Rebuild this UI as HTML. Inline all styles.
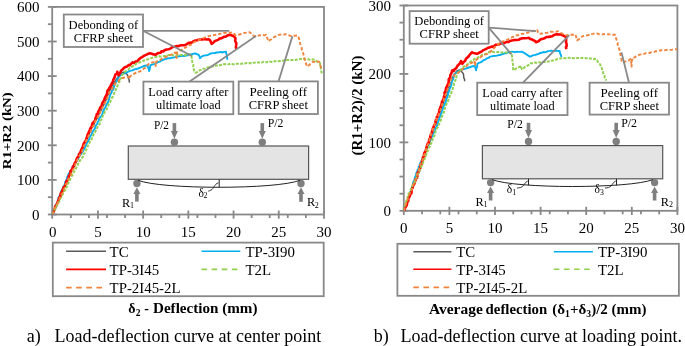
<!DOCTYPE html>
<html><head><meta charset="utf-8"><style>
html,body{margin:0;padding:0;background:#fff;width:685px;height:346px;overflow:hidden}
svg{display:block;font-family:"Liberation Serif",serif}
svg{will-change:transform}
</style></head><body>
<svg width="685" height="346" viewBox="0 0 685 346" font-family="'Liberation Serif', serif">
<defs><clipPath id="clipL"><rect x="52.3" y="0" width="272" height="214.3"/></clipPath><clipPath id="clipR"><rect x="403.6" y="0" width="274" height="211.1"/></clipPath></defs>
<rect width="685" height="346" fill="#fff"/>
<line x1="47.90" y1="197.20" x2="52.20" y2="197.20" stroke="#888888" stroke-width="1.8" />
<line x1="47.90" y1="162.60" x2="52.20" y2="162.60" stroke="#888888" stroke-width="1.8" />
<line x1="47.90" y1="128.00" x2="52.20" y2="128.00" stroke="#888888" stroke-width="1.8" />
<line x1="47.90" y1="93.40" x2="52.20" y2="93.40" stroke="#888888" stroke-width="1.8" />
<line x1="47.90" y1="58.80" x2="52.20" y2="58.80" stroke="#888888" stroke-width="1.8" />
<line x1="47.90" y1="24.20" x2="52.20" y2="24.20" stroke="#888888" stroke-width="1.8" />
<line x1="70.83" y1="214.50" x2="70.83" y2="218.00" stroke="#888888" stroke-width="1.8" />
<line x1="88.91" y1="214.50" x2="88.91" y2="218.00" stroke="#888888" stroke-width="1.8" />
<line x1="106.99" y1="214.50" x2="106.99" y2="218.00" stroke="#888888" stroke-width="1.8" />
<line x1="125.07" y1="214.50" x2="125.07" y2="218.00" stroke="#888888" stroke-width="1.8" />
<line x1="161.23" y1="214.50" x2="161.23" y2="218.00" stroke="#888888" stroke-width="1.8" />
<line x1="179.31" y1="214.50" x2="179.31" y2="218.00" stroke="#888888" stroke-width="1.8" />
<line x1="197.39" y1="214.50" x2="197.39" y2="218.00" stroke="#888888" stroke-width="1.8" />
<line x1="215.47" y1="214.50" x2="215.47" y2="218.00" stroke="#888888" stroke-width="1.8" />
<line x1="251.63" y1="214.50" x2="251.63" y2="218.00" stroke="#888888" stroke-width="1.8" />
<line x1="269.71" y1="214.50" x2="269.71" y2="218.00" stroke="#888888" stroke-width="1.8" />
<line x1="287.79" y1="214.50" x2="287.79" y2="218.00" stroke="#888888" stroke-width="1.8" />
<line x1="305.87" y1="214.50" x2="305.87" y2="218.00" stroke="#888888" stroke-width="1.8" />
<line x1="47.90" y1="214.50" x2="56.70" y2="214.50" stroke="#888888" stroke-width="1.8" />
<text x="39.50" y="219.80" font-size="15" text-anchor="end" font-weight="normal" fill="#000" >0</text>
<line x1="47.90" y1="179.90" x2="56.70" y2="179.90" stroke="#888888" stroke-width="1.8" />
<text x="39.50" y="185.20" font-size="15" text-anchor="end" font-weight="normal" fill="#000" >100</text>
<line x1="47.90" y1="145.30" x2="56.70" y2="145.30" stroke="#888888" stroke-width="1.8" />
<text x="39.50" y="150.60" font-size="15" text-anchor="end" font-weight="normal" fill="#000" >200</text>
<line x1="47.90" y1="110.70" x2="56.70" y2="110.70" stroke="#888888" stroke-width="1.8" />
<text x="39.50" y="116.00" font-size="15" text-anchor="end" font-weight="normal" fill="#000" >300</text>
<line x1="47.90" y1="76.10" x2="56.70" y2="76.10" stroke="#888888" stroke-width="1.8" />
<text x="39.50" y="81.40" font-size="15" text-anchor="end" font-weight="normal" fill="#000" >400</text>
<line x1="47.90" y1="41.50" x2="56.70" y2="41.50" stroke="#888888" stroke-width="1.8" />
<text x="39.50" y="46.80" font-size="15" text-anchor="end" font-weight="normal" fill="#000" >500</text>
<line x1="47.90" y1="6.90" x2="56.70" y2="6.90" stroke="#888888" stroke-width="1.8" />
<text x="39.50" y="12.20" font-size="15" text-anchor="end" font-weight="normal" fill="#000" >600</text>
<line x1="52.20" y1="210.50" x2="52.20" y2="218.70" stroke="#888888" stroke-width="1.8" />
<text x="52.75" y="237.10" font-size="15" text-anchor="middle" font-weight="normal" fill="#000" >0</text>
<line x1="97.95" y1="210.50" x2="97.95" y2="218.70" stroke="#888888" stroke-width="1.8" />
<text x="97.95" y="237.10" font-size="15" text-anchor="middle" font-weight="normal" fill="#000" >5</text>
<line x1="143.15" y1="210.50" x2="143.15" y2="218.70" stroke="#888888" stroke-width="1.8" />
<text x="143.15" y="237.10" font-size="15" text-anchor="middle" font-weight="normal" fill="#000" >10</text>
<line x1="188.35" y1="210.50" x2="188.35" y2="218.70" stroke="#888888" stroke-width="1.8" />
<text x="188.35" y="237.10" font-size="15" text-anchor="middle" font-weight="normal" fill="#000" >15</text>
<line x1="233.55" y1="210.50" x2="233.55" y2="218.70" stroke="#888888" stroke-width="1.8" />
<text x="233.55" y="237.10" font-size="15" text-anchor="middle" font-weight="normal" fill="#000" >20</text>
<line x1="278.75" y1="210.50" x2="278.75" y2="218.70" stroke="#888888" stroke-width="1.8" />
<text x="278.75" y="237.10" font-size="15" text-anchor="middle" font-weight="normal" fill="#000" >25</text>
<line x1="324.00" y1="210.50" x2="324.00" y2="218.70" stroke="#888888" stroke-width="1.8" />
<text x="323.95" y="237.10" font-size="15" text-anchor="middle" font-weight="normal" fill="#000" >30</text>
<rect x="52.20" y="6.90" width="271.80" height="207.60" fill="none" stroke="#888888" stroke-width="1.8"/>
<g clip-path="url(#clipL)">
<polyline points="52.3,214.3 53.0,213.0 53.8,211.7 54.5,210.2 54.6,208.4 55.9,207.0 56.6,205.2 56.9,203.8 57.6,202.5 57.9,200.8 58.8,199.8 59.8,197.8 60.5,196.3 61.0,194.8 61.2,193.9 62.0,192.0 63.3,190.9 63.4,189.5 64.3,187.8 64.7,186.6 65.7,185.1 66.5,183.1 66.8,181.6 67.3,180.0 68.1,178.9 68.5,177.5 69.4,175.8 70.4,174.4 70.7,172.9 71.7,171.2 72.2,170.0 73.2,168.2 73.8,167.3 74.0,165.8 74.9,164.1 75.3,162.3 76.2,161.4 76.9,159.8 78.1,158.5 78.4,156.6 79.2,155.4 79.6,153.9 80.8,152.5 80.9,151.1 81.7,149.1 82.7,148.1 83.2,146.6 84.1,144.7 84.6,143.1 85.1,141.6 86.3,140.7 86.6,138.6 87.9,137.4 88.1,135.7 89.0,134.7 89.6,132.9 90.0,131.8 91.0,130.0 91.4,128.5 92.7,126.7 93.4,125.8 94.1,124.2 94.5,122.5 95.3,121.2 96.1,119.5 97.3,118.2 98.1,116.5 98.5,115.2 99.2,113.4 99.9,111.8 100.7,110.8 101.8,109.1 102.2,107.4 102.7,105.8 103.9,104.8 104.4,103.2 105.4,101.6 106.0,100.0 106.8,98.5 107.2,96.8 107.8,95.0 108.9,93.5 109.2,92.0 110.0,90.0 110.9,88.6 111.3,87.0 112.2,85.6 113.2,84.2 114.0,82.5 115.2,81.2 116.1,79.7 117.3,78.1 118.4,76.8 119.1,75.3 120.2,73.5 122.5,72.8 124.3,71.8 125.8,73.3 126.6,74.1 127.7,75.2 127.9,77.3 128.9,78.9 129.2,81.0 129.5,82.7" fill="none" stroke="#5a5a5a" stroke-width="1.5" stroke-linejoin="round" />
<polyline points="52.3,214.3 53.3,213.2 53.1,211.0 54.4,210.0 54.8,208.2 55.4,206.9 56.0,205.1 56.4,203.8 57.3,202.8 58.1,200.9 58.3,199.2 58.5,197.5 59.5,196.2 60.0,195.2 60.7,193.5 61.1,191.5 61.8,190.1 62.5,189.3 63.2,187.2 64.0,186.2 64.5,184.8 65.1,183.2 65.4,181.8 66.5,179.7 66.9,178.6 67.3,177.0 67.9,175.8 68.5,174.0 69.4,172.9 70.1,171.5 71.4,169.7 72.1,168.7 73.1,166.9 73.5,165.4 74.8,163.9 75.8,162.5 76.7,161.1 77.6,160.0 78.1,158.5 79.1,157.1 79.7,155.4 80.8,154.6 81.7,152.5 82.8,151.6 83.4,150.0 84.5,148.3 85.1,146.8 85.8,145.5 86.2,144.6 86.9,142.9 88.2,141.2 88.5,140.3 89.4,138.7 89.8,137.0 90.7,135.9 91.4,134.6 92.1,133.0 92.9,131.2 94.0,130.0 95.0,128.2 95.2,127.2 96.1,125.1 97.4,123.7 97.4,122.4 98.6,121.2 98.9,119.4 99.6,118.0 100.9,116.7 101.8,115.2 102.5,113.7 102.9,111.8 103.8,110.4 104.1,109.0 105.5,107.2 106.0,105.9 106.7,104.2 107.8,102.8 108.2,101.4 108.9,100.0 109.2,98.2 109.9,96.0 110.5,94.3 111.5,92.7 111.9,91.1 112.9,89.6 113.9,87.9 114.1,85.7 115.0,84.0 115.7,82.5 116.9,81.0 117.9,79.0 118.5,77.6 119.5,76.0 121.0,74.7 123.2,73.8 125.2,73.2 127.1,72.3 128.4,71.5 130.2,70.8 132.2,70.3 133.9,69.6 135.5,69.1 137.1,68.8 139.5,68.0 140.8,67.3 142.6,66.7 144.3,65.8 145.9,65.7 147.6,65.2 147.8,66.8 148.8,69.0 149.1,71.0 149.6,69.4 150.1,67.0 150.5,65.2 153.1,64.4 155.0,63.8 156.2,63.2 157.8,62.1 160.0,61.6 160.9,60.7 162.8,60.0 164.5,59.2 166.1,58.9 167.8,58.3 169.8,58.4 171.7,57.7 173.2,57.6 175.1,57.1 177.0,56.6 178.9,56.3 180.9,56.0 182.2,55.6 184.0,56.0 186.1,55.5 188.0,55.4 189.7,54.3 191.4,54.5 193.2,53.8 194.8,53.4 196.5,54.0 198.4,54.6 199.4,56.2 200.0,58.2 202.2,56.1 204.0,55.6 206.2,55.3 208.0,54.8 209.5,54.0 211.1,53.4 213.1,53.1 214.8,53.0 216.7,52.5 218.9,52.4 220.7,51.9 222.2,52.5 223.9,51.9 226.1,51.8 226.0,53.0 227.0,55.4 227.1,56.2 227.1,57.9 227.5,59.7" fill="none" stroke="#00b0f0" stroke-width="1.9" stroke-linejoin="round" />
<polyline points="52.3,214.3 52.6,213.2 53.9,211.1 54.2,209.8 55.0,208.7 55.1,206.4 56.5,205.4 57.1,203.5 57.4,202.7 57.8,201.5 59.1,199.1 58.9,198.1 60.5,196.5 60.4,195.0 60.8,193.3 61.9,192.1 62.3,190.4 63.0,189.2 63.7,187.2 64.9,186.3 65.3,184.5 66.3,183.6 66.1,181.6 67.3,180.5 68.2,178.8 68.7,177.6 68.8,176.0 70.1,174.8 70.3,173.0 70.5,171.2 71.6,170.0 72.6,168.4 72.7,167.0 74.0,165.6 74.4,163.8 75.3,162.6 76.1,160.7 76.8,158.8 77.1,157.9 78.7,156.2 78.9,154.3 79.7,153.6 80.7,151.6 81.2,150.0 82.2,148.2 82.5,147.4 83.3,145.3 83.6,143.9 85.0,141.8 85.5,141.1 86.2,139.5 86.8,137.7 87.2,136.1 87.4,135.0 88.5,132.8 89.1,131.5 89.8,130.0 90.4,128.3 91.3,127.1 92.1,125.5 92.2,123.7 93.1,122.6 94.5,121.3 95.2,119.8 95.4,118.3 96.5,116.1 96.6,114.5 98.0,113.2 98.1,112.1 99.1,110.1 99.6,109.0 100.3,107.3 101.6,106.0 101.9,104.5 102.4,102.9 103.5,101.2 104.3,100.0 104.6,98.6 105.8,96.1 106.6,94.8 107.2,92.7 107.5,90.6 108.4,89.7 109.3,88.1 110.6,86.3 110.9,85.1 112.0,83.0 113.1,81.4 113.2,79.9 114.2,78.2 114.8,76.7 115.3,74.7 117.0,73.7 117.3,71.7 117.8,73.9 118.7,75.3 119.2,74.3 120.4,72.3 120.9,71.0 123.1,68.8 124.8,67.2 127.0,66.5 128.7,65.1 130.0,65.2 131.0,63.8 132.5,62.3 133.9,63.0 135.4,61.6 137.2,61.3 138.5,59.8 139.7,58.7 141.0,57.6 142.3,57.1 144.0,55.7 145.5,55.1 146.6,54.6 148.4,53.7 150.0,53.2 151.7,53.7 153.7,54.5 155.8,54.6 157.6,53.4 158.4,53.0 160.6,52.7 161.4,51.4 163.2,51.4 164.5,50.3 166.6,49.5 168.2,49.3 169.5,49.0 171.0,48.1 172.5,47.0 174.6,46.7 176.7,46.1 178.1,46.2 179.9,45.6 181.0,45.2 183.2,45.2 184.9,45.2 186.1,44.5 187.2,43.9 188.7,42.7 190.1,42.9 192.3,42.2 193.4,41.4 195.0,40.6 197.0,40.2 198.6,39.8 199.8,39.5 202.4,39.5 203.7,39.2 205.8,39.2 206.8,39.5 208.7,39.2 210.0,40.2 210.8,41.9 211.6,43.8 212.9,43.1 214.5,41.3 216.7,40.4 218.6,39.6 219.2,38.6 220.8,38.5 222.1,37.9 223.9,36.8 225.7,36.6 228.2,35.2 229.7,34.7 231.3,35.3 233.3,35.9 235.5,38.1 235.2,40.1 235.3,41.2 236.3,43.3 236.1,45.2 235.9,46.7 236.2,48.9" fill="none" stroke="#ff0000" stroke-width="2.6" stroke-linejoin="round" />
<polyline points="52.3,214.3 52.8,212.6 53.7,211.2 54.2,209.9 55.6,208.8 56.2,206.9 56.7,205.5 57.2,204.0 58.0,203.2 59.2,201.7 59.9,199.8 60.2,198.7 61.3,197.4 62.2,195.4 62.7,194.4 63.3,192.6 64.0,191.1 65.2,190.3 65.6,188.4 66.6,187.2 67.3,186.0 67.8,184.2 68.6,182.8 68.9,181.3 70.2,179.6 70.3,178.7 71.2,177.2 72.1,175.6 73.3,174.0 73.6,172.6 74.5,171.3 75.1,170.0 75.8,168.8 76.5,167.2 77.8,165.4 77.9,164.1 79.2,162.9 79.6,161.3 80.3,160.0 81.0,158.7 82.4,157.5 83.1,156.1 83.3,154.1 84.8,153.1 85.1,151.8 86.0,150.0 86.8,148.8 87.3,146.9 88.2,145.4 88.9,144.7 89.6,142.5 90.1,141.2 91.4,139.9 91.8,138.2 93.1,137.1 93.2,135.4 93.8,134.0 95.1,132.6 95.3,131.4 96.4,130.0 96.9,128.9 97.5,127.0 98.8,125.4 99.7,124.0 99.8,122.4 100.3,120.9 101.2,119.8 102.4,118.0 102.5,116.3 103.4,114.8 104.1,113.8 104.8,111.6 106.1,110.6 106.9,108.9 107.5,107.6 108.2,106.2 108.6,104.2 109.1,103.3 110.4,101.8 110.8,100.0 111.4,98.7 112.5,97.2 113.2,95.6 113.8,94.3 114.4,92.7 114.9,91.4 116.1,89.1 116.8,88.2 117.3,85.9 118.1,84.3 118.5,83.0 119.6,81.6 119.7,79.7 120.9,78.6 121.7,77.3 122.1,75.1 123.4,73.6 123.8,72.5 125.6,71.1 126.9,70.5 128.5,69.2 129.6,68.1 131.3,67.0 132.6,66.3 134.2,65.8 135.3,64.7 136.4,63.5 138.2,63.0 140.0,62.3 142.0,61.7 143.1,60.8 145.4,60.2 146.9,59.5 148.1,59.3 150.4,58.2 151.8,57.9 153.6,57.3 155.0,57.0 156.7,56.8 159.2,56.3 160.4,56.6 162.9,56.3 164.5,56.1 166.2,56.1 168.3,55.1 170.2,54.9 171.7,54.8 173.3,55.2 175.2,55.3 176.8,55.5 178.9,55.3 180.4,54.9 182.5,54.9 184.3,55.2 186.1,54.8 188.0,54.3 189.3,54.7 191.2,54.6 191.5,56.4 191.7,57.5 191.8,59.7 192.2,61.2 192.6,62.6 193.3,64.6 193.3,66.6 193.4,68.4 194.3,70.9 195.5,72.7 197.0,72.2 198.3,71.3 200.0,70.2 201.9,69.8 203.3,68.8 205.2,68.5 206.8,67.8 208.0,67.2 210.0,67.0 211.9,66.4 213.7,66.3 215.1,65.9 216.8,65.4 218.3,65.8 219.7,65.3 221.5,64.7 223.0,64.1 225.0,64.2 227.0,64.4 228.6,64.3 230.4,63.7 231.7,63.9 233.4,64.2 235.2,64.1 236.4,63.8 238.5,63.8 240.1,63.7 241.5,63.7 243.3,63.4 245.3,63.4 246.5,62.9 248.2,63.2 250.0,63.0 252.1,63.2 253.3,62.7 255.3,62.5 256.6,62.2 258.1,62.5 260.2,62.4 261.6,62.6 263.4,61.8 264.7,62.4 267.1,62.2 268.4,61.6 269.7,61.5 271.4,61.9 273.6,61.7 274.7,61.1 276.5,61.6 278.1,61.3 280.0,61.0 281.8,60.9 283.7,60.5 285.0,60.2 286.3,60.0 288.2,59.9 289.6,60.4 291.5,60.1 293.5,59.9 295.1,59.9 297.0,59.5 298.4,59.3 300.0,59.0 301.8,59.1 303.3,58.9 305.3,59.3 306.3,59.1 308.6,59.2 309.9,59.7 312.0,59.5 313.2,59.6 315.0,59.8 316.3,61.2 317.9,62.3 320.0,63.0 320.1,64.5 320.9,66.8 320.8,68.3 321.3,70.2 321.4,72.0 322.0,73.5" fill="none" stroke="#92d050" stroke-width="2.0" stroke-linejoin="round" stroke-dasharray="3 1.3" />
<polyline points="52.3,214.3 52.8,212.9 53.6,211.4 54.4,209.5 54.6,208.7 55.5,206.7 56.8,205.4 57.3,203.9 57.9,202.2 58.5,201.3 59.1,199.7 59.9,197.7 60.7,196.7 61.0,194.7 62.1,193.6 62.7,192.5 63.4,191.0 63.8,189.4 64.5,188.1 65.5,185.9 65.6,184.5 67.0,183.2 67.4,181.7 67.9,180.2 68.5,178.9 69.4,177.7 70.1,176.2 70.9,174.8 71.5,172.7 72.3,171.8 72.7,170.0 73.8,168.5 74.3,166.7 75.2,165.4 75.5,163.5 76.7,162.7 76.8,161.0 77.8,159.0 78.4,157.9 79.6,155.8 80.2,154.3 81.0,152.9 81.9,151.9 82.3,150.0 83.0,148.9 83.5,146.6 84.4,145.0 84.8,143.8 85.8,142.0 86.0,141.1 86.9,139.6 88.0,137.6 88.4,136.2 89.2,134.7 89.8,133.2 90.8,131.5 91.1,130.0 91.8,128.7 92.4,127.0 93.7,125.7 94.1,123.9 94.7,122.9 95.1,121.5 96.3,119.6 97.1,118.5 97.8,117.0 98.6,115.9 98.8,113.9 100.0,113.2 100.4,111.4 101.4,109.9 102.0,108.4 102.7,107.2 103.4,105.6 104.5,103.9 105.1,103.0 105.6,101.2 106.5,100.0 107.5,98.0 107.8,96.4 108.9,94.4 109.4,92.8 110.3,91.2 111.5,89.7 112.5,88.1 113.0,87.0 114.4,85.4 115.0,84.0 116.0,82.5 117.4,81.4 118.8,80.8 119.5,79.2 120.9,78.2 122.7,78.0 124.3,77.5 125.3,77.2 127.5,76.9 128.8,76.8 129.5,79.0 130.0,76.5 131.8,75.1 133.9,73.9 135.3,73.1 137.1,72.2 137.9,72.1 140.0,71.4 141.1,70.7 142.6,69.6 144.2,68.3 145.3,67.8 146.4,66.5 147.4,65.3 148.5,64.0 150.0,63.3 151.7,62.7 153.6,62.1 155.0,62.0 155.6,64.2 155.6,66.0 156.2,64.2 156.2,61.8 158.7,60.4 160.5,59.7 161.2,59.2 162.7,58.1 164.6,57.6 165.8,57.2 167.3,56.1 169.1,55.3 170.6,54.9 172.5,54.2 174.1,53.0 176.0,52.5 176.2,54.6 176.1,56.4 176.6,58.0 177.1,56.3 177.3,53.8 177.2,52.3 178.8,51.8 179.8,50.5 181.5,49.9 183.1,49.0 184.8,47.8 186.1,47.4 187.2,46.2 188.8,45.2 190.9,44.8 191.7,43.6 193.4,42.5 195.0,41.7 196.5,41.2 198.3,40.3 199.6,39.6 201.1,39.2 203.2,38.4 204.3,37.6 206.2,37.3 208.1,36.4 209.5,35.9 211.3,35.7 212.6,35.2 214.3,35.1 215.8,34.8 217.5,34.1 219.1,34.1 220.4,33.6 222.2,33.6 223.9,33.0 226.0,32.8 227.7,33.0 228.9,32.6 230.6,32.7 232.6,32.3 234.2,34.1 235.5,35.2 237.6,34.9 239.4,34.5 241.0,34.0 242.3,33.7 243.8,33.0 246.1,32.6 247.2,32.2 249.1,32.2 250.7,32.9 251.3,34.4 252.7,35.4 254.3,36.1 256.1,36.2 258.0,35.8 259.6,35.2 261.2,35.4 262.8,34.9 264.5,35.3 266.0,34.8 266.3,36.3 267.4,38.3 267.7,39.4 268.6,41.3 269.7,40.3 271.5,39.0 272.6,38.0 274.1,37.1 275.7,36.3 277.1,35.6 279.0,34.8 281.0,34.6 282.5,34.2 284.1,34.5 285.6,34.1 287.7,34.8 289.5,35.5 291.4,36.1 293.7,35.6 295.0,35.8 297.3,35.4 298.6,37.4 299.2,39.3 299.6,41.1 299.9,42.4 300.3,44.3 300.9,45.7 301.7,47.9 301.8,49.4 302.4,51.1 302.9,52.5 303.4,53.9 303.6,55.3 304.3,57.1 304.5,58.7 305.0,60.6 305.3,62.3 306.1,63.5 306.5,65.3 307.0,66.6 308.8,65.4 310.0,64.3 311.8,62.8 313.0,61.6 315.2,62.0 317.0,61.4 319.0,61.6 319.5,63.8 320.5,66.0 321.0,67.6 323.5,68.0" fill="none" stroke="#f0843c" stroke-width="1.9" stroke-linejoin="round" stroke-dasharray="3.4 2.0" />
</g>
<line x1="143.00" y1="30.80" x2="229.30" y2="30.80" stroke="#888888" stroke-width="1.8" />
<line x1="143.00" y1="30.80" x2="192.00" y2="56.00" stroke="#888888" stroke-width="1.8" />
<line x1="189.60" y1="81.60" x2="256.00" y2="36.00" stroke="#888888" stroke-width="1.8" />
<line x1="278.50" y1="81.40" x2="292.40" y2="36.30" stroke="#888888" stroke-width="1.8" />
<rect x="63.8" y="14.5" width="79.2" height="32.5" fill="#fff" stroke="#888888" stroke-width="1.8"/>
<text x="103.40" y="28.60" font-size="12.4" text-anchor="middle" font-weight="normal" fill="#000" textLength="69.6" lengthAdjust="spacingAndGlyphs" >Debonding of</text>
<text x="103.40" y="41.60" font-size="12.4" text-anchor="middle" font-weight="normal" fill="#000" textLength="59.2" lengthAdjust="spacingAndGlyphs" >CFRP sheet</text>
<rect x="143.4" y="81.6" width="89.9" height="32.60000000000001" fill="#fff" stroke="#888888" stroke-width="1.8"/>
<text x="188.35" y="96.00" font-size="12.4" text-anchor="middle" font-weight="normal" fill="#000" textLength="80.0" lengthAdjust="spacingAndGlyphs" >Load carry after</text>
<text x="188.35" y="109.30" font-size="12.4" text-anchor="middle" font-weight="normal" fill="#000" textLength="64.5" lengthAdjust="spacingAndGlyphs" >ultimate load</text>
<rect x="238.7" y="81.4" width="79.19999999999999" height="32.599999999999994" fill="#fff" stroke="#888888" stroke-width="1.8"/>
<text x="278.30" y="96.00" font-size="12.4" text-anchor="middle" font-weight="normal" fill="#000" textLength="57.4" lengthAdjust="spacingAndGlyphs" >Peeling off</text>
<text x="278.30" y="109.30" font-size="12.4" text-anchor="middle" font-weight="normal" fill="#000" textLength="59.2" lengthAdjust="spacingAndGlyphs" >CFRP sheet</text>
<rect x="128.3" y="146" width="180.3" height="33.3" fill="#e4e4e4" stroke="#555" stroke-width="1.2"/>
<rect x="172.60" y="123.10" width="3.6" height="8.70" fill="#7f7f7f"/>
<polygon points="170.90,131.00 177.90,131.00 174.40,138.80" fill="#7f7f7f"/>
<circle cx="174.40" cy="142.30" r="3.7" fill="#7f7f7f"/>
<rect x="260.50" y="123.10" width="3.6" height="8.60" fill="#7f7f7f"/>
<polygon points="258.80,130.90 265.80,130.90 262.30,138.70" fill="#7f7f7f"/>
<circle cx="262.30" cy="142.20" r="3.7" fill="#7f7f7f"/>
<circle cx="136.90" cy="183.40" r="3.7" fill="#7f7f7f"/>
<polygon points="136.90,187.20 133.40,193.90 140.40,193.90" fill="#7f7f7f"/>
<rect x="135.10" y="193.40" width="3.6" height="8.20" fill="#7f7f7f"/>
<circle cx="301.00" cy="183.50" r="3.7" fill="#7f7f7f"/>
<polygon points="301.00,187.30 297.50,194.00 304.50,194.00" fill="#7f7f7f"/>
<rect x="299.20" y="193.50" width="3.6" height="8.30" fill="#7f7f7f"/>
<path d="M138,180.3 C162,189.6 276,189.6 300,180.3" fill="none" stroke="#222" stroke-width="1"/>
<line x1="219.20" y1="179.40" x2="219.20" y2="187.20" stroke="#222" stroke-width="1" />
<path d="M218.5,182.8 C214,184 214,189 211,190 C210,190.6 209,191 208.2,191.2" fill="none" stroke="#222" stroke-width="0.9"/>
<text x="198.60" y="196.60" font-size="11.5" text-anchor="start" font-weight="normal" fill="#000" >δ</text>
<text x="203.60" y="198.30" font-size="7.8" text-anchor="start" font-weight="normal" fill="#000" >2</text>
<text x="153.90" y="128.50" font-size="12" text-anchor="start" font-weight="normal" fill="#000" textLength="15.1" lengthAdjust="spacingAndGlyphs" >P/2</text>
<text x="267.70" y="127.00" font-size="12" text-anchor="start" font-weight="normal" fill="#000" textLength="15.7" lengthAdjust="spacingAndGlyphs" >P/2</text>
<text x="122.00" y="206.50" font-size="12.3" text-anchor="start" font-weight="normal" fill="#000" >R</text>
<text x="130.00" y="207.80" font-size="8" text-anchor="start" font-weight="normal" fill="#000" >1</text>
<text x="306.90" y="206.40" font-size="12.3" text-anchor="start" font-weight="normal" fill="#000" >R</text>
<text x="314.80" y="207.60" font-size="8" text-anchor="start" font-weight="normal" fill="#000" >2</text>
<rect x="52.8" y="242.6" width="270.9" height="53.599999999999994" fill="none" stroke="#888888" stroke-width="1.8"/>
<line x1="66.1" y1="251.2" x2="106" y2="251.2" stroke="#5a5a5a" stroke-width="1.6"/>
<text x="109.60" y="256.50" font-size="14.85" text-anchor="start" font-weight="normal" fill="#000" >TC</text>
<line x1="201.5" y1="251.2" x2="240.3" y2="251.2" stroke="#00b0f0" stroke-width="1.6"/>
<text x="245.40" y="256.50" font-size="14.85" text-anchor="start" font-weight="normal" fill="#000" >TP-3I90</text>
<line x1="66.1" y1="269.4" x2="106" y2="269.4" stroke="#ff0000" stroke-width="1.6"/>
<text x="109.60" y="274.70" font-size="14.85" text-anchor="start" font-weight="normal" fill="#000" >TP-3I45</text>
<line x1="201.5" y1="269.4" x2="240.3" y2="269.4" stroke="#92d050" stroke-width="1.6" stroke-dasharray="5.6 4.5"/>
<text x="245.40" y="274.70" font-size="14.85" text-anchor="start" font-weight="normal" fill="#000" >T2L</text>
<line x1="66.1" y1="287.6" x2="106" y2="287.6" stroke="#f0843c" stroke-width="1.6" stroke-dasharray="5.6 4.5"/>
<text x="109.60" y="292.90" font-size="14.85" text-anchor="start" font-weight="normal" fill="#000" >TP-2I45-2L</text>
<text x="128.30" y="313.20" font-size="14" text-anchor="start" font-weight="bold" fill="#000" >δ</text>
<text x="135.80" y="316.00" font-size="9.5" text-anchor="start" font-weight="bold" fill="#000" >2</text>
<text x="144.20" y="313.20" font-size="14" text-anchor="start" font-weight="bold" fill="#000" >-</text>
<text x="153.00" y="313.20" font-size="14" text-anchor="start" font-weight="bold" fill="#000" textLength="104.5" lengthAdjust="spacingAndGlyphs" >Deflection (mm)</text>
<text transform="translate(10.8,169.3) rotate(-90)" x="0" y="0" font-size="13.2" font-weight="bold" textLength="77" lengthAdjust="spacingAndGlyphs">R1+R2 (kN)</text>
<text x="26.70" y="341.80" font-size="18" text-anchor="start" font-weight="normal" fill="#000" >a)</text>
<text x="54.50" y="341.80" font-size="18" text-anchor="start" font-weight="normal" fill="#000" >Load-deflection curve at center point</text>
<line x1="399.50" y1="193.69" x2="403.80" y2="193.69" stroke="#888888" stroke-width="1.8" />
<line x1="399.50" y1="176.58" x2="403.80" y2="176.58" stroke="#888888" stroke-width="1.8" />
<line x1="399.50" y1="159.48" x2="403.80" y2="159.48" stroke="#888888" stroke-width="1.8" />
<line x1="399.50" y1="125.26" x2="403.80" y2="125.26" stroke="#888888" stroke-width="1.8" />
<line x1="399.50" y1="108.15" x2="403.80" y2="108.15" stroke="#888888" stroke-width="1.8" />
<line x1="399.50" y1="91.04" x2="403.80" y2="91.04" stroke="#888888" stroke-width="1.8" />
<line x1="399.50" y1="56.83" x2="403.80" y2="56.83" stroke="#888888" stroke-width="1.8" />
<line x1="399.50" y1="39.72" x2="403.80" y2="39.72" stroke="#888888" stroke-width="1.8" />
<line x1="399.50" y1="22.61" x2="403.80" y2="22.61" stroke="#888888" stroke-width="1.8" />
<line x1="422.04" y1="210.80" x2="422.04" y2="214.30" stroke="#888888" stroke-width="1.8" />
<line x1="440.28" y1="210.80" x2="440.28" y2="214.30" stroke="#888888" stroke-width="1.8" />
<line x1="458.52" y1="210.80" x2="458.52" y2="214.30" stroke="#888888" stroke-width="1.8" />
<line x1="476.76" y1="210.80" x2="476.76" y2="214.30" stroke="#888888" stroke-width="1.8" />
<line x1="513.24" y1="210.80" x2="513.24" y2="214.30" stroke="#888888" stroke-width="1.8" />
<line x1="531.48" y1="210.80" x2="531.48" y2="214.30" stroke="#888888" stroke-width="1.8" />
<line x1="549.72" y1="210.80" x2="549.72" y2="214.30" stroke="#888888" stroke-width="1.8" />
<line x1="567.96" y1="210.80" x2="567.96" y2="214.30" stroke="#888888" stroke-width="1.8" />
<line x1="604.44" y1="210.80" x2="604.44" y2="214.30" stroke="#888888" stroke-width="1.8" />
<line x1="622.68" y1="210.80" x2="622.68" y2="214.30" stroke="#888888" stroke-width="1.8" />
<line x1="640.92" y1="210.80" x2="640.92" y2="214.30" stroke="#888888" stroke-width="1.8" />
<line x1="659.16" y1="210.80" x2="659.16" y2="214.30" stroke="#888888" stroke-width="1.8" />
<line x1="399.50" y1="210.80" x2="408.30" y2="210.80" stroke="#888888" stroke-width="1.8" />
<text x="391.00" y="216.10" font-size="15" text-anchor="end" font-weight="normal" fill="#000" >0</text>
<line x1="399.50" y1="142.37" x2="408.30" y2="142.37" stroke="#888888" stroke-width="1.8" />
<text x="391.00" y="147.67" font-size="15" text-anchor="end" font-weight="normal" fill="#000" >100</text>
<line x1="399.50" y1="73.93" x2="408.30" y2="73.93" stroke="#888888" stroke-width="1.8" />
<text x="391.00" y="79.23" font-size="15" text-anchor="end" font-weight="normal" fill="#000" >200</text>
<line x1="399.50" y1="5.50" x2="408.30" y2="5.50" stroke="#888888" stroke-width="1.8" />
<text x="391.00" y="10.80" font-size="15" text-anchor="end" font-weight="normal" fill="#000" >300</text>
<line x1="403.80" y1="206.80" x2="403.80" y2="215.00" stroke="#888888" stroke-width="1.8" />
<text x="403.80" y="233.40" font-size="15" text-anchor="middle" font-weight="normal" fill="#000" >0</text>
<line x1="449.40" y1="206.80" x2="449.40" y2="215.00" stroke="#888888" stroke-width="1.8" />
<text x="449.40" y="233.40" font-size="15" text-anchor="middle" font-weight="normal" fill="#000" >5</text>
<line x1="495.00" y1="206.80" x2="495.00" y2="215.00" stroke="#888888" stroke-width="1.8" />
<text x="495.00" y="233.40" font-size="15" text-anchor="middle" font-weight="normal" fill="#000" >10</text>
<line x1="540.60" y1="206.80" x2="540.60" y2="215.00" stroke="#888888" stroke-width="1.8" />
<text x="540.60" y="233.40" font-size="15" text-anchor="middle" font-weight="normal" fill="#000" >15</text>
<line x1="586.20" y1="206.80" x2="586.20" y2="215.00" stroke="#888888" stroke-width="1.8" />
<text x="586.20" y="233.40" font-size="15" text-anchor="middle" font-weight="normal" fill="#000" >20</text>
<line x1="631.80" y1="206.80" x2="631.80" y2="215.00" stroke="#888888" stroke-width="1.8" />
<text x="631.80" y="233.40" font-size="15" text-anchor="middle" font-weight="normal" fill="#000" >25</text>
<line x1="677.40" y1="206.80" x2="677.40" y2="215.00" stroke="#888888" stroke-width="1.8" />
<text x="677.40" y="233.40" font-size="15" text-anchor="middle" font-weight="normal" fill="#000" >30</text>
<rect x="403.80" y="5.50" width="273.60" height="205.30" fill="none" stroke="#888888" stroke-width="1.8"/>
<g clip-path="url(#clipR)">
<polyline points="403.8,210.8 404.7,208.9 405.1,207.5 405.8,205.9 406.3,204.9 406.8,203.6 407.0,201.6 407.8,200.1 408.1,198.5 409.1,197.5 409.6,195.5 410.2,194.2 410.3,192.6 411.0,190.9 411.6,189.5 412.2,188.4 412.8,186.6 413.5,185.5 413.8,183.9 414.0,181.8 414.7,180.9 415.6,179.2 415.9,177.6 416.8,175.8 416.9,174.2 417.7,173.3 418.3,171.4 418.8,170.0 419.3,168.2 420.2,166.8 420.3,165.3 421.2,163.7 421.8,162.2 422.0,160.5 422.9,159.4 423.2,157.4 423.7,156.1 424.5,154.9 425.0,152.9 425.0,151.8 426.2,149.8 426.4,148.4 427.3,146.6 427.2,145.6 428.1,143.8 428.8,142.4 429.3,140.6 429.4,138.9 430.2,137.8 430.7,136.0 431.4,134.8 432.0,132.9 432.7,131.7 433.0,130.0 433.9,128.8 433.8,127.1 434.6,125.4 435.3,123.8 435.7,122.8 436.3,121.3 437.2,119.4 437.5,118.1 438.3,116.4 438.4,114.8 439.6,113.7 439.6,112.2 440.5,110.4 441.3,108.7 441.3,107.4 442.4,106.0 442.8,104.8 443.3,103.2 443.6,101.7 444.5,100.0 444.8,98.4 445.9,96.8 446.3,95.0 447.0,93.2 447.2,91.7 448.0,90.0 448.6,88.1 449.3,86.7 449.6,85.2 450.7,83.3 451.4,82.1 451.9,80.0 452.2,78.2 453.0,76.8 453.7,75.7 454.5,74.2 455.8,72.7 456.6,71.1 458.1,70.5 460.2,69.6 461.4,71.5 463.1,73.2 463.6,75.0 463.7,76.7 463.8,77.8 464.6,79.3 464.6,81.2" fill="none" stroke="#5a5a5a" stroke-width="1.5" stroke-linejoin="round" />
<polyline points="403.8,210.8 404.4,209.3 405.2,207.2 405.2,205.8 406.1,204.5 407.0,202.7 407.5,201.1 407.8,199.2 408.4,198.0 409.3,196.0 409.4,194.7 409.9,193.1 410.6,191.3 411.5,189.5 411.4,188.7 412.2,186.5 413.1,185.7 412.8,183.7 413.3,182.1 414.2,180.4 414.8,178.8 414.8,177.9 415.5,176.1 416.1,174.6 416.4,172.7 417.2,171.9 417.5,170.0 418.5,168.6 418.7,166.9 419.6,165.7 419.8,163.9 420.6,162.6 421.7,161.1 421.7,159.9 422.7,158.2 423.1,156.6 423.9,155.4 424.4,153.7 425.1,152.4 425.6,150.6 426.5,149.4 426.9,147.7 427.7,146.1 428.6,145.2 429.2,143.7 429.6,142.2 430.4,140.1 431.4,139.2 431.4,137.2 432.7,135.8 432.9,134.1 433.4,133.1 434.8,131.9 435.1,130.0 435.7,128.0 436.1,127.1 437.1,125.4 437.2,123.7 438.0,122.2 438.4,120.9 439.4,118.7 439.5,117.7 440.1,116.1 440.8,114.4 441.6,112.4 441.8,110.9 442.7,109.6 442.8,108.2 443.6,106.1 444.2,105.1 444.9,103.3 445.8,101.9 446.0,100.0 446.7,98.3 447.2,97.1 447.9,95.3 448.0,93.5 448.7,92.0 449.4,90.4 449.4,88.9 450.6,87.3 451.1,85.8 451.4,84.0 451.8,81.9 452.3,80.4 453.3,79.1 453.5,77.4 453.7,75.7 454.5,74.0 456.1,73.0 457.1,72.1 458.6,71.4 460.2,70.3 461.7,69.4 463.5,69.3 465.6,68.7 467.5,68.0 468.9,67.5 470.5,67.0 472.7,66.2 474.7,66.0 475.5,68.0 476.1,70.3 476.3,68.5 477.2,66.7 477.1,65.2 477.6,63.8 478.9,62.8 480.5,62.3 482.3,61.3 483.5,60.2 485.4,59.6 486.7,58.4 488.7,57.8 490.0,56.6 491.4,56.4 493.5,56.0 495.1,55.9 497.0,55.6 498.5,55.1 500.0,55.0 501.8,54.4 503.3,54.0 504.8,53.3 506.4,53.2 508.0,52.4 510.1,52.1 511.5,51.8 513.6,51.9 514.9,52.1 517.1,51.7 518.2,51.9 520.5,51.9 522.0,51.8 523.8,52.7 525.3,53.6 526.7,54.6 528.3,55.6 530.0,56.7 531.9,55.8 533.1,55.3 535.4,54.9 536.3,54.5 538.6,53.9 540.0,53.0 541.6,52.8 543.2,52.0 545.3,52.2 546.4,51.9 548.0,51.1 550.0,50.9 551.2,50.6 553.0,51.1 554.7,50.7 556.2,50.7 558.4,51.0 559.7,50.9 560.0,53.1 560.9,54.9 561.5,57.0" fill="none" stroke="#00b0f0" stroke-width="1.9" stroke-linejoin="round" />
<polyline points="403.8,210.8 404.8,208.7 405.9,206.5 406.9,205.0 407.0,203.6 407.3,202.0 408.3,200.8 408.3,198.8 408.8,197.8 409.8,196.0 410.5,194.0 411.4,193.4 411.6,191.5 411.7,189.4 412.6,187.9 412.8,186.6 413.2,185.3 414.2,184.1 414.8,182.4 415.3,180.9 415.8,179.0 416.9,178.1 417.3,176.3 417.4,174.3 417.9,172.6 418.9,171.4 419.2,170.0 420.1,168.3 420.7,167.3 420.3,165.1 421.7,163.8 422.3,162.2 421.9,160.9 423.1,159.0 422.9,157.5 424.3,156.4 424.0,154.4 424.5,152.6 425.7,151.2 426.0,149.9 426.2,148.7 426.6,147.1 427.1,145.3 427.7,143.6 429.0,142.6 428.9,141.2 429.3,139.1 430.5,137.8 430.2,136.6 430.9,134.4 431.9,132.9 432.0,131.1 432.7,130.0 432.8,128.5 433.5,126.9 434.2,125.2 435.3,123.7 435.5,122.5 435.7,120.2 436.9,119.3 436.8,117.1 437.9,116.2 437.9,114.7 439.1,112.7 439.2,110.7 439.4,109.9 440.1,108.1 440.7,106.6 441.6,104.5 441.7,103.4 442.1,101.3 443.1,100.0 443.6,98.7 444.1,96.4 444.9,94.7 444.4,93.1 445.3,91.2 445.8,90.0 446.0,88.2 447.0,86.3 447.3,85.5 448.4,83.6 448.7,81.9 448.7,79.7 449.1,78.9 450.3,77.3 450.2,75.4 451.2,73.8 451.6,72.4 452.3,70.3 453.7,71.1 454.5,69.4 456.3,68.1 457.3,66.0 458.8,64.5 460.1,63.1 461.0,61.0 462.4,63.8 463.5,62.3 465.2,60.8 466.0,58.8 467.1,57.8 468.7,56.3 469.6,54.8 470.7,53.7 471.8,52.3 473.3,52.9 476.2,53.6 477.6,53.7 479.3,52.7 480.7,52.0 481.9,51.3 483.4,50.1 484.6,49.6 486.2,48.8 488.3,47.7 490.0,47.2 492.1,46.6 493.9,46.4 495.4,44.9 497.5,44.8 498.9,44.5 500.3,43.5 502.6,43.5 503.7,43.3 505.1,42.6 506.6,41.9 508.7,41.9 510.0,41.0 512.0,40.6 513.4,40.1 514.6,40.0 517.0,40.0 518.5,39.8 520.0,39.0 521.6,38.4 523.6,38.3 525.1,38.2 527.3,38.0 529.0,37.8 530.2,39.0 532.3,39.5 532.8,40.0 535.0,40.9 536.0,42.2 537.7,41.6 538.8,41.1 540.0,39.7 542.0,38.9 543.8,38.4 545.0,38.0 546.4,37.0 548.6,36.9 550.3,36.6 552.2,36.3 553.8,35.1 555.3,34.5 557.0,34.3 558.2,34.5 560.5,34.4 562.0,35.0 563.7,35.8 565.8,36.9 566.1,38.7 566.1,40.7 566.0,42.5 566.5,43.5 566.7,45.9 565.9,47.4 566.4,49.2" fill="none" stroke="#ff0000" stroke-width="2.6" stroke-linejoin="round" />
<polyline points="403.8,210.8 403.9,208.8 404.6,206.5 405.3,205.1 405.5,202.8 406.4,201.4 406.6,199.6 407.2,198.0 407.8,196.0 408.2,194.2 409.6,192.8 409.8,191.7 410.8,189.6 411.4,188.5 411.8,186.9 412.5,185.2 413.2,183.5 414.6,182.2 415.4,180.7 415.8,179.5 416.6,177.3 417.2,176.2 417.6,174.3 418.9,173.1 419.0,171.5 420.0,170.0 420.4,168.8 421.2,166.7 422.1,165.2 422.3,163.7 423.3,162.3 423.7,160.8 424.3,159.8 424.9,158.1 425.5,156.6 426.2,154.9 426.7,153.5 427.7,152.6 427.6,150.5 428.8,149.3 428.8,147.9 430.2,146.2 430.3,144.9 431.4,143.1 431.5,141.6 432.4,140.3 432.7,138.8 433.2,137.3 434.5,136.0 434.6,134.8 435.3,132.8 435.6,131.2 436.6,130.0 436.9,128.3 438.1,126.8 438.2,125.6 439.3,123.8 439.8,122.4 440.2,121.1 441.1,119.7 441.3,118.3 441.8,116.4 442.9,115.0 443.3,113.4 444.0,112.1 444.1,110.8 444.8,108.9 445.3,107.2 445.8,106.2 446.3,104.3 447.2,103.0 447.7,101.7 448.4,100.0 448.9,98.2 449.6,96.4 450.1,94.7 451.2,93.1 451.8,91.4 452.3,90.0 452.9,88.4 453.2,87.0 453.9,85.0 453.9,83.2 454.6,81.6 455.6,80.2 455.4,78.4 456.6,76.6 456.5,75.2 457.3,73.2 458.4,72.4 459.9,71.2 461.1,69.4 462.2,68.5 463.1,67.5 464.1,66.4 465.7,65.2 466.9,64.8 468.3,63.7 469.4,63.0 470.6,61.8 472.2,60.3 473.8,59.6 474.7,58.8 476.6,58.4 478.1,57.6 479.2,56.6 480.7,56.3 482.0,54.9 484.2,54.7 485.6,54.1 487.0,53.3 488.4,52.6 490.0,51.6 491.3,51.7 493.4,52.1 494.9,52.2 497.0,52.1 498.1,52.0 500.0,52.5 501.9,52.5 503.2,52.6 504.6,52.4 506.4,52.4 508.5,52.4 509.5,53.0 511.5,52.7 511.8,54.3 512.1,56.7 512.3,58.8 512.4,60.5 512.5,61.9 512.9,63.8 513.0,65.1 512.9,67.1 513.1,68.7 513.3,70.2 514.9,69.5 516.3,68.4 518.3,67.4 519.4,66.8 521.2,65.8 521.3,67.8 522.0,69.3 523.3,68.6 525.0,67.0 526.4,66.4 527.9,65.3 529.2,64.6 530.8,63.2 532.1,63.3 533.6,62.9 535.3,62.5 537.3,62.9 538.6,62.4 540.4,62.4 541.9,62.0 543.9,62.0 545.1,62.1 547.2,61.6 548.0,61.4 550.0,61.4 552.1,60.6 553.3,60.6 555.0,60.2 556.8,59.3 558.9,58.6 560.8,58.4 562.3,57.9 564.1,58.1 565.2,58.2 567.4,57.7 568.9,57.7 570.4,58.1 571.9,57.9 573.4,58.2 575.4,58.2 576.6,58.1 578.2,57.9 579.9,58.2 581.4,57.9 583.4,57.8 585.0,57.9 586.3,58.2 588.6,58.2 590.1,58.4 591.2,58.7 593.4,59.2 594.7,58.8 596.2,59.4 597.2,60.3 597.8,61.9 599.0,62.9 600.2,64.5 600.8,66.3 601.8,68.1 602.0,69.1 603.0,70.9 603.1,72.9 603.9,74.6 604.6,76.2 604.8,77.8 605.7,79.2 606.3,80.7" fill="none" stroke="#92d050" stroke-width="2.0" stroke-linejoin="round" stroke-dasharray="3 1.3" />
<polyline points="403.8,210.8 404.2,209.2 405.0,207.7 405.2,205.5 406.0,204.0 406.3,202.2 407.4,200.6 407.8,199.1 408.2,197.8 409.2,196.4 409.1,194.5 409.8,193.5 410.9,191.9 411.5,190.3 412.2,188.8 412.2,187.3 413.0,185.7 413.6,183.9 414.0,182.3 414.6,180.5 415.6,179.5 416.3,177.9 416.5,176.4 416.8,174.8 417.6,172.8 418.0,171.6 418.8,170.0 419.1,168.4 420.0,166.8 420.1,165.4 420.8,163.6 421.3,162.2 421.7,160.9 423.0,159.1 423.3,158.0 423.3,155.9 424.5,154.9 424.9,152.8 425.2,151.8 426.2,150.2 426.2,148.7 426.8,147.1 427.2,145.8 428.1,144.0 428.3,142.4 429.2,140.8 429.5,139.4 430.1,137.5 430.5,136.3 431.0,134.4 431.5,133.2 432.4,131.6 432.9,130.0 433.1,128.4 433.9,126.5 434.3,125.7 434.9,123.5 435.6,122.2 436.1,120.5 436.9,119.2 437.2,117.2 438.2,116.2 438.8,114.2 439.5,112.5 439.5,111.1 440.8,109.7 440.9,108.0 441.9,106.1 442.3,104.6 442.6,103.0 443.2,101.5 444.0,100.0 444.2,98.1 444.9,96.6 445.9,94.2 446.6,92.6 447.0,91.0 447.5,89.5 447.9,87.8 448.5,86.2 449.4,84.6 449.8,83.2 450.1,81.9 450.8,80.4 451.5,78.7 452.6,77.5 453.9,76.5 454.5,74.7 455.6,73.8 457.1,73.2 458.7,72.4 460.3,70.9 461.7,70.3 462.5,69.0 464.4,67.9 465.3,66.9 466.4,66.2 467.5,65.1 468.9,63.8 470.9,63.2 472.6,62.3 474.5,61.0 474.6,62.7 474.9,64.6 475.0,66.0 475.5,63.9 475.0,62.4 475.5,60.5 477.6,58.8 479.4,58.0 480.5,57.5 482.1,55.9 483.4,55.0 485.5,54.2 487.1,54.0 488.8,53.1 490.0,52.0 491.2,50.9 492.9,49.8 493.7,48.6 494.9,47.1 496.9,46.0 497.6,45.1 499.1,43.3 500.4,42.5 501.5,41.7 503.2,41.5 504.7,40.8 506.6,39.8 508.2,39.4 509.3,38.4 510.8,38.2 512.4,37.0 513.7,36.6 515.1,36.0 516.8,35.3 518.0,35.2 519.7,34.2 521.7,33.9 523.5,33.7 524.8,33.6 526.2,33.1 528.0,32.5 530.0,32.0 532.1,31.2 533.9,30.8 535.7,30.4 537.3,30.2 537.9,32.1 539.3,34.0 541.3,33.5 542.6,33.6 544.0,33.2 545.5,32.9 547.5,32.7 549.4,32.3 550.7,31.8 552.8,31.9 554.6,31.9 555.7,31.8 557.7,31.2 559.7,32.3 561.2,33.0 562.8,33.8 564.3,34.3 565.9,35.3 567.4,35.3 569.6,34.5 571.5,34.8 573.2,34.7 575.0,34.3 575.8,35.7 576.3,37.3 576.6,38.8 577.1,40.4 578.7,39.4 580.0,38.3 581.1,37.7 582.2,36.4 584.1,35.9 585.4,35.5 587.4,35.3 589.5,35.0 590.9,34.1 592.8,33.9 594.5,33.3 595.8,33.3 597.5,33.6 599.3,34.3 600.8,34.4 602.7,34.3 604.3,34.1 606.6,34.1 607.7,34.2 609.4,34.4 611.3,34.3 612.9,34.8 615.0,34.7 615.1,36.1 616.0,38.3 616.6,39.8 617.1,41.6 617.7,42.7 617.6,44.7 618.4,46.3 618.8,47.9 619.4,49.3 619.8,51.1 620.0,52.6 620.3,54.5 620.9,56.3 621.1,57.8 621.4,59.4 621.8,61.2 622.5,62.5 624.4,61.8 625.8,61.3 626.9,60.7 628.6,60.5 631.0,58.5 631.1,59.8 631.4,61.8 631.3,63.5 631.3,64.8 631.6,66.5 631.6,64.4 632.1,62.8 631.6,61.6 632.3,59.7 632.2,58.0 634.6,57.4 636.1,56.4 637.3,55.9 639.0,54.9 640.7,54.4 642.7,53.7 644.0,53.9 646.0,53.1 647.7,53.1 649.3,53.0 651.1,52.4 652.8,52.0 654.3,51.9 656.0,51.2 657.2,51.2 659.2,50.6 661.0,50.3 662.4,50.2 664.1,50.4 665.9,50.0 667.6,49.9 669.0,50.0 670.8,49.9 672.5,49.6 673.8,49.3 675.2,49.3 677.0,49.3" fill="none" stroke="#f0843c" stroke-width="1.9" stroke-linejoin="round" stroke-dasharray="3.4 2.0" />
</g>
<line x1="488.70" y1="27.60" x2="536.00" y2="31.10" stroke="#888888" stroke-width="1.8" />
<line x1="488.70" y1="27.60" x2="511.50" y2="54.40" stroke="#888888" stroke-width="1.8" />
<line x1="523.00" y1="82.70" x2="569.30" y2="35.10" stroke="#888888" stroke-width="1.8" />
<line x1="629.00" y1="82.70" x2="621.50" y2="52.40" stroke="#888888" stroke-width="1.8" />
<rect x="409.6" y="11.1" width="79.09999999999997" height="32.6" fill="#fff" stroke="#888888" stroke-width="1.8"/>
<text x="449.15" y="24.90" font-size="12.4" text-anchor="middle" font-weight="normal" fill="#000" textLength="69.6" lengthAdjust="spacingAndGlyphs" >Debonding of</text>
<text x="449.15" y="38.30" font-size="12.4" text-anchor="middle" font-weight="normal" fill="#000" textLength="59.2" lengthAdjust="spacingAndGlyphs" >CFRP sheet</text>
<rect x="477.2" y="82.7" width="90.30000000000001" height="32.39999999999999" fill="#fff" stroke="#888888" stroke-width="1.8"/>
<text x="522.35" y="96.80" font-size="12.4" text-anchor="middle" font-weight="normal" fill="#000" textLength="80.0" lengthAdjust="spacingAndGlyphs" >Load carry after</text>
<text x="522.35" y="110.10" font-size="12.4" text-anchor="middle" font-weight="normal" fill="#000" textLength="64.5" lengthAdjust="spacingAndGlyphs" >ultimate load</text>
<rect x="589.6" y="82.7" width="79.39999999999998" height="31.89999999999999" fill="#fff" stroke="#888888" stroke-width="1.8"/>
<text x="629.30" y="96.80" font-size="12.4" text-anchor="middle" font-weight="normal" fill="#000" textLength="57.4" lengthAdjust="spacingAndGlyphs" >Peeling off</text>
<text x="629.30" y="110.10" font-size="12.4" text-anchor="middle" font-weight="normal" fill="#000" textLength="59.2" lengthAdjust="spacingAndGlyphs" >CFRP sheet</text>
<rect x="482.4" y="145.6" width="180.3" height="33.2" fill="#e4e4e4" stroke="#555" stroke-width="1.2"/>
<rect x="526.70" y="122.80" width="3.6" height="8.10" fill="#7f7f7f"/>
<polygon points="525.00,130.10 532.00,130.10 528.50,137.90" fill="#7f7f7f"/>
<circle cx="528.50" cy="141.40" r="3.7" fill="#7f7f7f"/>
<rect x="614.40" y="122.80" width="3.6" height="8.10" fill="#7f7f7f"/>
<polygon points="612.70,130.10 619.70,130.10 616.20,137.90" fill="#7f7f7f"/>
<circle cx="616.20" cy="141.40" r="3.7" fill="#7f7f7f"/>
<circle cx="490.60" cy="182.60" r="3.7" fill="#7f7f7f"/>
<polygon points="490.60,186.40 487.10,193.10 494.10,193.10" fill="#7f7f7f"/>
<rect x="488.80" y="192.60" width="3.6" height="7.90" fill="#7f7f7f"/>
<circle cx="654.60" cy="182.60" r="3.7" fill="#7f7f7f"/>
<polygon points="654.60,186.40 651.10,193.10 658.10,193.10" fill="#7f7f7f"/>
<rect x="652.80" y="192.60" width="3.6" height="7.90" fill="#7f7f7f"/>
<path d="M492,179.6 C516,188.8 629,188.8 653,179.6" fill="none" stroke="#222" stroke-width="1"/>
<line x1="528.50" y1="178.80" x2="528.50" y2="185.30" stroke="#222" stroke-width="1" />
<line x1="616.50" y1="178.80" x2="616.50" y2="185.30" stroke="#222" stroke-width="1" />
<text x="506.80" y="192.50" font-size="11.5" text-anchor="start" font-weight="normal" fill="#000" >δ</text>
<text x="512.30" y="194.50" font-size="7.8" text-anchor="start" font-weight="normal" fill="#000" >1</text>
<text x="594.50" y="192.50" font-size="11.5" text-anchor="start" font-weight="normal" fill="#000" >δ</text>
<text x="600.00" y="194.50" font-size="7.8" text-anchor="start" font-weight="normal" fill="#000" >3</text>
<path d="M527.8,181 C524,182.5 524,187 520.5,187.5 C519,187.8 518,188 517,188" fill="none" stroke="#222" stroke-width="0.9"/>
<path d="M615.8,181 C612,182.5 612,187 608.5,187.5 C607,187.8 606,188 605,188" fill="none" stroke="#222" stroke-width="0.9"/>
<text x="507.30" y="127.50" font-size="12.5" text-anchor="start" font-weight="normal" fill="#000" textLength="15.5" lengthAdjust="spacingAndGlyphs" >P/2</text>
<text x="621.20" y="127.00" font-size="12.5" text-anchor="start" font-weight="normal" fill="#000" textLength="15.9" lengthAdjust="spacingAndGlyphs" >P/2</text>
<text x="475.50" y="205.60" font-size="12.3" text-anchor="start" font-weight="normal" fill="#000" >R</text>
<text x="483.60" y="206.90" font-size="8" text-anchor="start" font-weight="normal" fill="#000" >1</text>
<text x="660.80" y="205.60" font-size="12.3" text-anchor="start" font-weight="normal" fill="#000" >R</text>
<text x="668.90" y="206.90" font-size="8" text-anchor="start" font-weight="normal" fill="#000" >2</text>
<rect x="397.4" y="243.8" width="281.5" height="52.0" fill="none" stroke="#888888" stroke-width="1.8"/>
<line x1="413.3" y1="251.7" x2="451.4" y2="251.7" stroke="#5a5a5a" stroke-width="1.6"/>
<text x="456.30" y="257.00" font-size="14.85" text-anchor="start" font-weight="normal" fill="#000" >TC</text>
<line x1="553.8" y1="251.7" x2="592.9" y2="251.7" stroke="#00b0f0" stroke-width="1.6"/>
<text x="597.90" y="257.00" font-size="14.85" text-anchor="start" font-weight="normal" fill="#000" >TP-3I90</text>
<line x1="413.3" y1="269.2" x2="451.4" y2="269.2" stroke="#ff0000" stroke-width="1.6"/>
<text x="456.30" y="274.50" font-size="14.85" text-anchor="start" font-weight="normal" fill="#000" >TP-3I45</text>
<line x1="553.8" y1="269.2" x2="592.9" y2="269.2" stroke="#92d050" stroke-width="1.6" stroke-dasharray="5.6 4.5"/>
<text x="597.90" y="274.50" font-size="14.85" text-anchor="start" font-weight="normal" fill="#000" >T2L</text>
<line x1="413.3" y1="287.4" x2="451.4" y2="287.4" stroke="#f0843c" stroke-width="1.6" stroke-dasharray="5.6 4.5"/>
<text x="456.30" y="292.70" font-size="14.85" text-anchor="start" font-weight="normal" fill="#000" >TP-2I45-2L</text>
<text x="428.90" y="313.80" font-size="14.6" text-anchor="start" font-weight="bold" fill="#000" textLength="53.9" lengthAdjust="spacingAndGlyphs" >Average</text>
<text x="485.60" y="313.80" font-size="14.6" text-anchor="start" font-weight="bold" fill="#000" textLength="61.6" lengthAdjust="spacingAndGlyphs" >deflection</text>
<text x="552.30" y="313.80" font-size="14.6" text-anchor="start" font-weight="bold" fill="#000" textLength="94.2" lengthAdjust="spacingAndGlyphs" >(δ<tspan font-size='9.5' dy='3'>1</tspan><tspan dy='-3'>+δ</tspan><tspan font-size='9.5' dy='3'>3</tspan><tspan dy='-3'>)/2 (mm)</tspan></text>
<text transform="translate(362.0,155.6) rotate(-90)" x="0" y="0" font-size="15" font-weight="bold" textLength="100.0" lengthAdjust="spacingAndGlyphs">(R1+R2)/2 (kN)</text>
<text x="373.70" y="342.00" font-size="18" text-anchor="start" font-weight="normal" fill="#000" >b)</text>
<text x="400.60" y="342.00" font-size="18" text-anchor="start" font-weight="normal" fill="#000" >Load-deflection curve at loading point.</text>
</svg>
</body></html>
